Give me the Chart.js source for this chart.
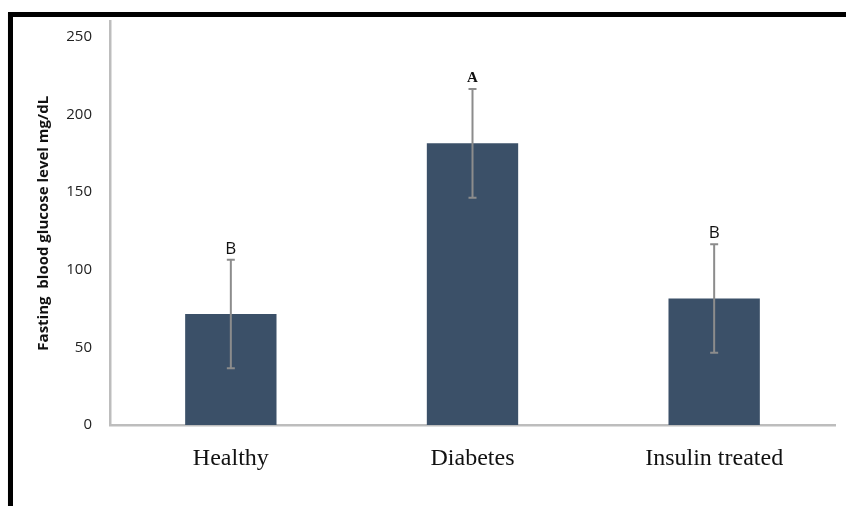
<!DOCTYPE html>
<html>
<head>
<meta charset="utf-8">
<script src="https://cdn.jsdelivr.net/npm/chart.js@4"></script>
<style>
  html, body { margin: 0; padding: 0; background: #fff; }
  #wrap { position: relative; width: 846px; height: 506px; overflow: hidden; }
  #frame { position: absolute; left: 8px; top: 12px; width: 900px; height: 600px;
           border-top: 5px solid #000; border-left: 5px solid #000; box-sizing: border-box;
           box-shadow: 0 1px 1px #ccc; pointer-events: none; }
  canvas { position: absolute; left: 0; top: 0; }
</style>
</head>
<body>
<div id="wrap">
  <canvas id="c" width="846" height="506"></canvas>
  <div id="frame"></div>
</div>
<script>
const categories = ['Healthy', 'Diabetes', 'Insulin treated'];
const meanValues = [71.5, 181.5, 81.5];
const sdValues = [35, 35, 35];
const groupLetters = ['B', 'A', 'B'];
const yTickValues = [0, 50, 100, 150, 200, 250];
const yAxisTitle = 'Fasting  blood glucose level mg/dL';

const errorBarPlugin = {
  id: 'errorBars',
  afterDatasetsDraw(chart) {
    const ctx = chart.ctx;
    const meta = chart.getDatasetMeta(0);
    const y = chart.scales.y;
    ctx.save();
    meta.data.forEach((bar, i) => {
      const x = bar.x;
      const top = y.getPixelForValue(meanValues[i] + sdValues[i]);
      const bot = y.getPixelForValue(meanValues[i] - sdValues[i]);
      ctx.strokeStyle = '#8c8c8c';
      ctx.lineWidth = 2;
      ctx.beginPath();
      ctx.moveTo(x, top); ctx.lineTo(x, bot);
      ctx.moveTo(x - 4, top); ctx.lineTo(x + 4, top);
      ctx.moveTo(x - 4, bot); ctx.lineTo(x + 4, bot);
      ctx.stroke();
      const letter = groupLetters[i];
      if (letter === 'A') {
        ctx.font = 'bold 15px "Liberation Serif"';
      } else {
        ctx.font = '17px "Open Sans"';
      }
      ctx.fillStyle = '#111';
      ctx.textAlign = 'center';
      ctx.textBaseline = 'middle';
      ctx.fillText(letter, x, top - 11);
    });
    ctx.restore();
  }
};

new Chart(document.getElementById('c'), {
  type: 'bar',
  data: {
    labels: categories,
    datasets: [{
      data: meanValues,
      backgroundColor: '#3b5068',
      borderWidth: 0,
      barPercentage: 0.378,
      categoryPercentage: 1.0
    }]
  },
  options: {
    responsive: false,
    animation: false,
    devicePixelRatio: 1,
    layout: { padding: { left: 0, right: 11, top: 21.5, bottom: 0 } },
    plugins: { legend: { display: false }, tooltip: { enabled: false } },
    scales: {
      x: {
        grid: { display: false, drawTicks: false },
        border: { display: true, color: '#bdbdbd', width: 2.5 },
        ticks: { color: '#111', font: { family: '"Liberation Serif"', size: 24 }, padding: 19 },
        afterFit(s) { s.height = 81; s.paddingLeft = 0; s.paddingRight = 0; }
      },
      y: {
        min: 0,
        max: 260,
        grid: { display: false, drawTicks: false },
        border: { display: true, color: '#bdbdbd', width: 2.5 },
        ticks: { color: '#222', font: { family: '"Open Sans"', size: 15 }, padding: 18 },
        afterBuildTicks(s) { s.ticks = yTickValues.map(v => ({ value: v })); },
        title: {
          display: true,
          text: yAxisTitle,
          color: '#111',
          font: { family: '"Open Sans"', size: 15, weight: 'bold' },
          padding: { top: 35, bottom: 0 }
        },
        afterFit(s) { s.width = 110; s.paddingTop = 0; s.paddingBottom = 0; }
      }
    }
  },
  plugins: [errorBarPlugin]
});
</script>
</body>
</html>
